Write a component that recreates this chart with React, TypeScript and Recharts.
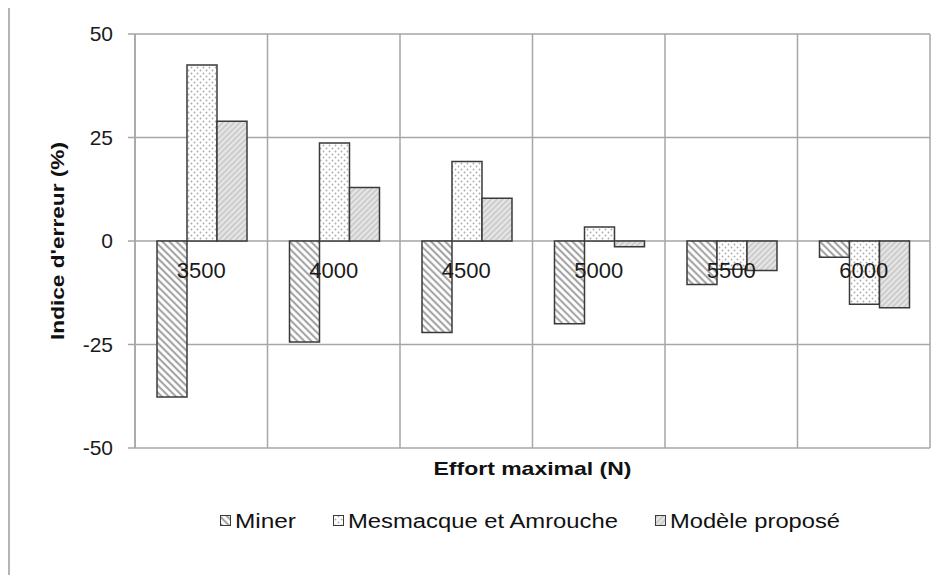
import React from 'react';
import { BarChart, Bar, XAxis, YAxis, CartesianGrid, Legend } from 'recharts';

const categories = ['3500', '4000', '4500', '5000', '5500', '6000'];
const miner = [-37.7, -24.4, -22.1, -20.0, -10.5, -3.9];
const mesmacque = [42.5, 23.7, 19.2, 3.4, -6.8, -15.3];
const modele = [28.9, 12.9, 10.3, -1.4, -7.1, -16.1];
const yTicks = [-50, -25, 0, 25, 50];

const data = categories.map((c, i) => ({
  name: c,
  miner: miner[i],
  mesmacque: mesmacque[i],
  modele: modele[i],
}));

const FONT = '"Liberation Sans", Arial, sans-serif';
const W = 935;
const H = 534;
const MARGIN = { top: 28, right: 15, left: 65, bottom: 4 };
const PLOT_H = 414;
const Y_MIN = -50;
const Y_MAX = 50;
const ZERO_Y = MARGIN.top + (PLOT_H * Y_MAX) / (Y_MAX - Y_MIN);

// the original text looks stretched sideways, so legend labels get a fixed length
const series = [
  { key: 'miner', name: 'Miner', fill: 'url(#pMiner)', textLen: 61 },
  { key: 'mesmacque', name: 'Mesmacque et Amrouche', fill: 'url(#pMes)', textLen: 270 },
  { key: 'modele', name: 'Modèle proposé', fill: 'url(#pMod)', textLen: 170 },
];

const CatTick = (props: any) => {
  const { x, payload } = props;
  return (
    <text x={x} y={ZERO_Y + 37} textAnchor="middle" fontSize={22} fontFamily={FONT} fill="#1a1a1a">
      {payload.value}
    </text>
  );
};

const YTitle = (props: any) => {
  const cy = props.viewBox.y + props.viewBox.height / 2;
  const cx = 47;
  return (
    <text
      x={cx}
      y={cy}
      transform={`rotate(-90 ${cx} ${cy})`}
      textAnchor="middle"
      dominantBaseline="central"
      fontSize={19}
      fontWeight="bold"
      fontFamily={FONT}
      fill="#111"
      textLength={198}
      lengthAdjust="spacingAndGlyphs"
    >
      Indice d'erreur (%)
    </text>
  );
};

const XTitle = (props: any) => {
  const { x, width, y } = props.viewBox;
  return (
    <text
      x={x + width / 2}
      y={y + 27}
      textAnchor="middle"
      fontSize={19}
      fontWeight="bold"
      fontFamily={FONT}
      fill="#111"
      textLength={198}
      lengthAdjust="spacingAndGlyphs"
    >
      Effort maximal  (N)
    </text>
  );
};

const LegendContent = () => {
  let x = 210;
  const items = series.map((s) => {
    const sx = x;
    x += 11 + 4 + s.textLen + 37;
    return (
      <g key={s.key}>
        <rect x={sx + 0.5} y={9.5} width={10} height={10} fill={s.fill} stroke="#3a3a3a" strokeWidth={1} />
        <text
          x={sx + 15}
          y={22}
          fontSize={20}
          fontFamily={FONT}
          fill="#111"
          textLength={s.textLen}
          lengthAdjust="spacingAndGlyphs"
        >
          {s.name}
        </text>
      </g>
    );
  });
  return (
    <svg width={W} height={30} style={{ display: 'block' }}>
      {items}
    </svg>
  );
};

export default function App() {
  return (
    <div
      style={{
        position: 'relative',
        marginTop: -4,
        width: 943,
        height: 571,
        borderTop: '2px solid #b4b4b4',
        borderLeft: '2px solid #b4b4b4',
        background: '#fff',
        fontFamily: FONT,
      }}
    >
      <BarChart width={W} height={H} data={data} margin={MARGIN} barCategoryGap="16.6%" barGap={0}>
        <defs>
          <pattern id="pMiner" width="5" height="5" patternUnits="userSpaceOnUse" patternTransform="rotate(-45)">
            <rect width="5" height="5" fill="#ffffff" />
            <line x1="1.2" y1="0" x2="1.2" y2="5" stroke="#9a9a9a" strokeWidth="1.9" />
          </pattern>
          <pattern id="pMes" width="6" height="6" patternUnits="userSpaceOnUse">
            <rect width="6" height="6" fill="#ffffff" />
            <circle cx="1.5" cy="1.5" r="0.9" fill="#ababab" />
            <circle cx="4.5" cy="4.5" r="0.9" fill="#ababab" />
          </pattern>
          <pattern id="pMod" width="4" height="4" patternUnits="userSpaceOnUse" patternTransform="rotate(45)">
            <rect width="4" height="4" fill="#e6e6e6" />
            <line x1="1" y1="0" x2="1" y2="4" stroke="#c2c2c2" strokeWidth="1.4" />
          </pattern>
        </defs>
        <CartesianGrid
          stroke="#a6a6a6"
          strokeWidth={1.5}
          verticalCoordinatesGenerator={({ offset }: any) =>
            categories.map((_, i) => offset.left + (offset.width * i) / categories.length).concat(offset.left + offset.width)
          }
        />
        <YAxis
          width={60}
          domain={[Y_MIN, Y_MAX]}
          ticks={yTicks}
          interval={0}
          axisLine={{ stroke: '#a6a6a6', strokeWidth: 1.5 }}
          tickLine={{ stroke: '#a6a6a6', strokeWidth: 1.5 }}
          tickSize={7}
          tickMargin={15}
          tick={{ fontSize: 21, fill: '#1a1a1a', fontFamily: FONT }}
          label={(p: any) => <YTitle {...p} />}
        />
        {series.map((s) => (
          <Bar key={s.key} dataKey={s.key} name={s.name} fill={s.fill} stroke="#3a3a3a" strokeWidth={1.5} isAnimationActive={false} />
        ))}
        <XAxis
          dataKey="name"
          height={58}
          axisLine={false}
          tickLine={false}
          interval={0}
          tick={(p: any) => <CatTick {...p} />}
          label={(p: any) => <XTitle {...p} />}
        />
        <Legend verticalAlign="bottom" height={30} wrapperStyle={{ left: 0, width: W }} content={() => <LegendContent />} />
      </BarChart>
    </div>
  );
}
